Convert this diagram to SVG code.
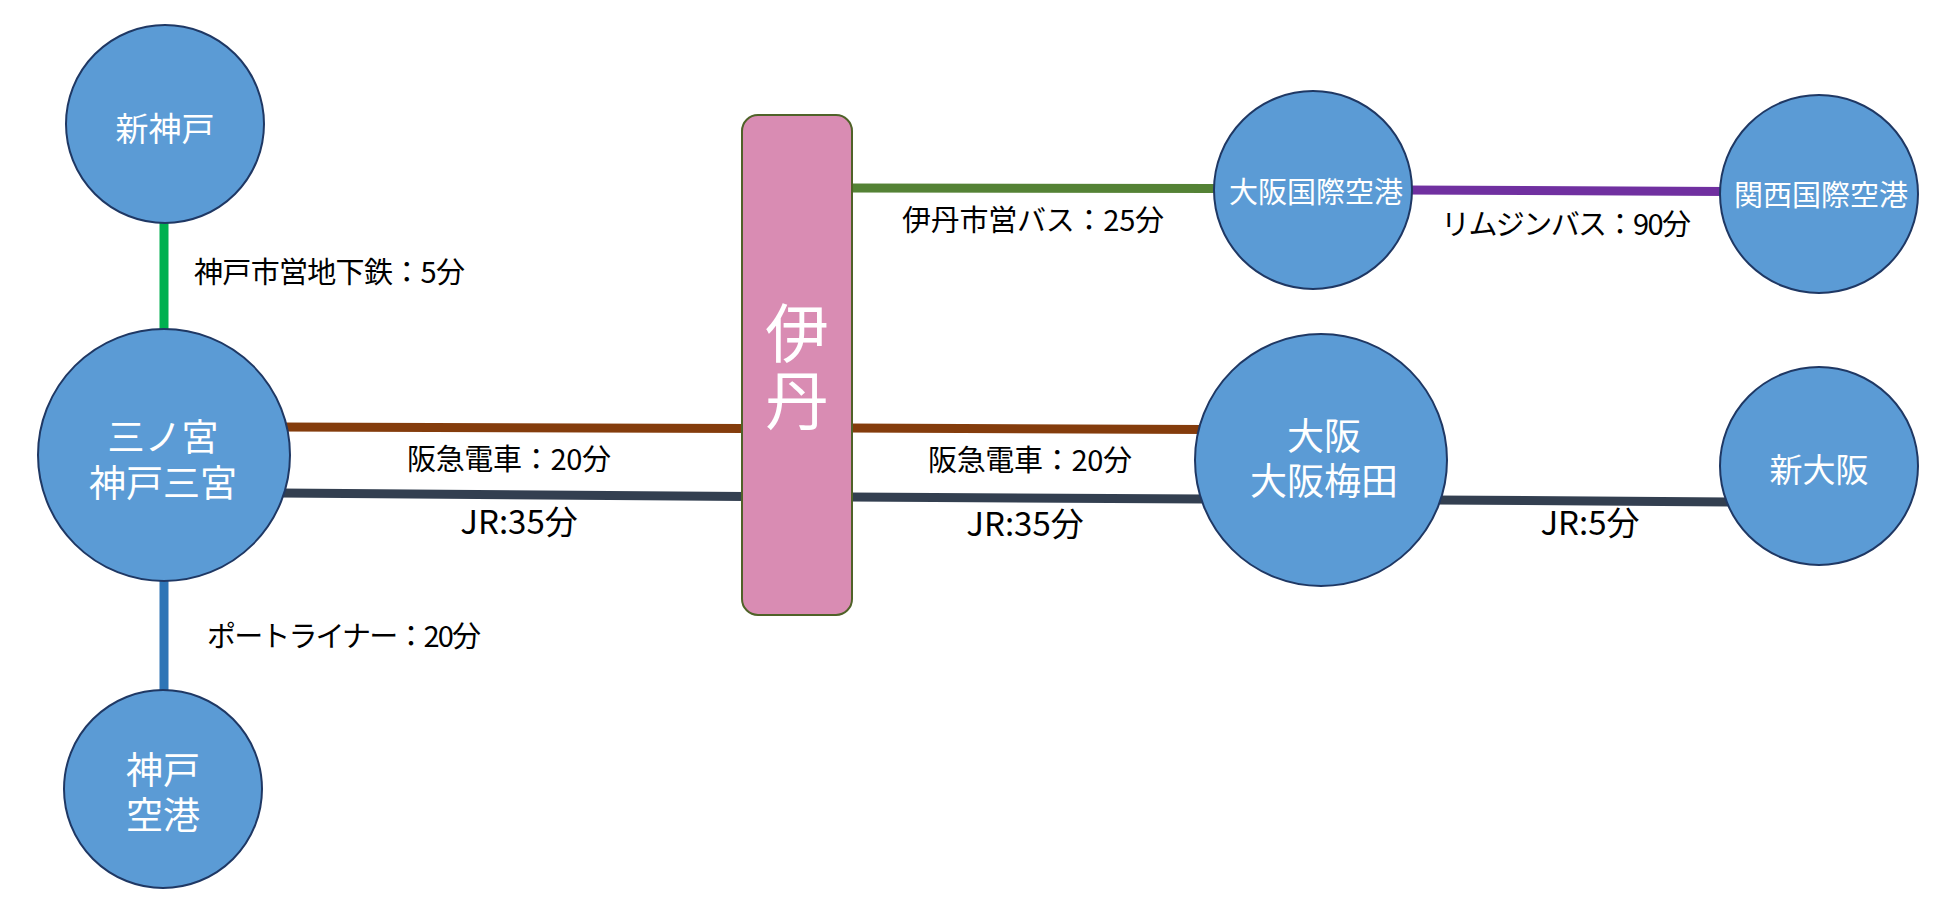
<svg xmlns="http://www.w3.org/2000/svg" width="1950" height="915" viewBox="0 0 1950 915">
<style>
.bg{fill:#FFFFFF}
.node{fill:#5B9BD5;stroke:#1F3864;stroke-width:2}
.hub{fill:#D98CB3;stroke:#4F6228;stroke-width:2}
.nt{font-family:"Noto Sans CJK JP","Noto Sans",sans-serif;fill:#FFFFFF;text-anchor:middle}
.lbl{font-family:"Noto Sans CJK JP","Noto Sans",sans-serif;fill:#000000;text-anchor:middle;font-size:29px}
.jr{font-size:33px}
.ln{fill:none;stroke-width:9}
</style>
<rect class="bg" x="0" y="0" width="1950" height="915"/>
<g id="connectors">
  <line class="ln" x1="164" y1="220" x2="164" y2="335" stroke="#00B050"/>
  <line class="ln" x1="164" y1="575" x2="164" y2="695" stroke="#2E75B6"/>
  <line class="ln" x1="280" y1="427" x2="745" y2="428.5" stroke="#843C0C"/>
  <line class="ln" x1="849" y1="428" x2="1205" y2="429.5" stroke="#843C0C"/>
  <line class="ln" x1="280" y1="493" x2="745" y2="496.5" stroke="#333F50"/>
  <line class="ln" x1="849" y1="497" x2="1205" y2="499" stroke="#333F50"/>
  <line class="ln" x1="1435" y1="500" x2="1730" y2="502" stroke="#333F50"/>
  <line class="ln" x1="849" y1="188" x2="1220" y2="188.5" stroke="#548235"/>
  <line class="ln" x1="1405" y1="190" x2="1728" y2="191.5" stroke="#7030A0"/>
  <text class="lbl" x="329.5" y="283" textLength="271">神戸市営地下鉄：5分</text>
  <text class="lbl" x="344" y="647" textLength="274">ポートライナー：20分</text>
  <text class="lbl" x="509" y="470" textLength="204">阪急電車：20分</text>
  <text class="lbl jr" x="519" y="534">JR:35分</text>
  <text class="lbl" x="1030" y="471" textLength="204">阪急電車：20分</text>
  <text class="lbl jr" x="1025" y="536">JR:35分</text>
  <text class="lbl jr" x="1590" y="535">JR:5分</text>
  <text class="lbl" x="1033" y="231" textLength="262">伊丹市営バス：25分</text>
  <text class="lbl" x="1566" y="235" textLength="250">リムジンバス：90分</text>
</g>
<g id="node-shinkobe">
  <circle class="node" cx="165" cy="124" r="99"/>
  <text class="nt" x="165" y="141" font-size="33">新神戸</text>
</g>
<g id="node-sannomiya">
  <circle class="node" cx="164" cy="455" r="126"/>
  <text class="nt" font-size="37"><tspan x="163" y="451">三ノ宮</tspan><tspan x="163" y="497">神戸三宮</tspan></text>
</g>
<g id="node-kobe-airport">
  <circle class="node" cx="163" cy="789" r="99"/>
  <text class="nt" font-size="37"><tspan x="163" y="784">神戸</tspan><tspan x="163" y="829">空港</tspan></text>
</g>
<g id="node-itami">
  <rect class="hub" x="742" y="115" width="110" height="500" rx="16" ry="16"/>
  <text class="nt" font-size="64"><tspan x="797" y="357">伊</tspan><tspan x="797" y="424">丹</tspan></text>
</g>
<g id="node-itami-airport">
  <circle class="node" cx="1313" cy="190" r="99"/>
  <text class="nt" x="1316" y="203" font-size="29">大阪国際空港</text>
</g>
<g id="node-kansai-airport">
  <circle class="node" cx="1819" cy="194" r="99"/>
  <text class="nt" x="1821" y="206" font-size="29">関西国際空港</text>
</g>
<g id="node-umeda">
  <circle class="node" cx="1321" cy="460" r="126"/>
  <text class="nt" font-size="37"><tspan x="1324" y="450">大阪</tspan><tspan x="1324" y="495">大阪梅田</tspan></text>
</g>
<g id="node-shinosaka">
  <circle class="node" cx="1819" cy="466" r="99"/>
  <text class="nt" x="1819" y="482" font-size="33">新大阪</text>
</g>
</svg>
